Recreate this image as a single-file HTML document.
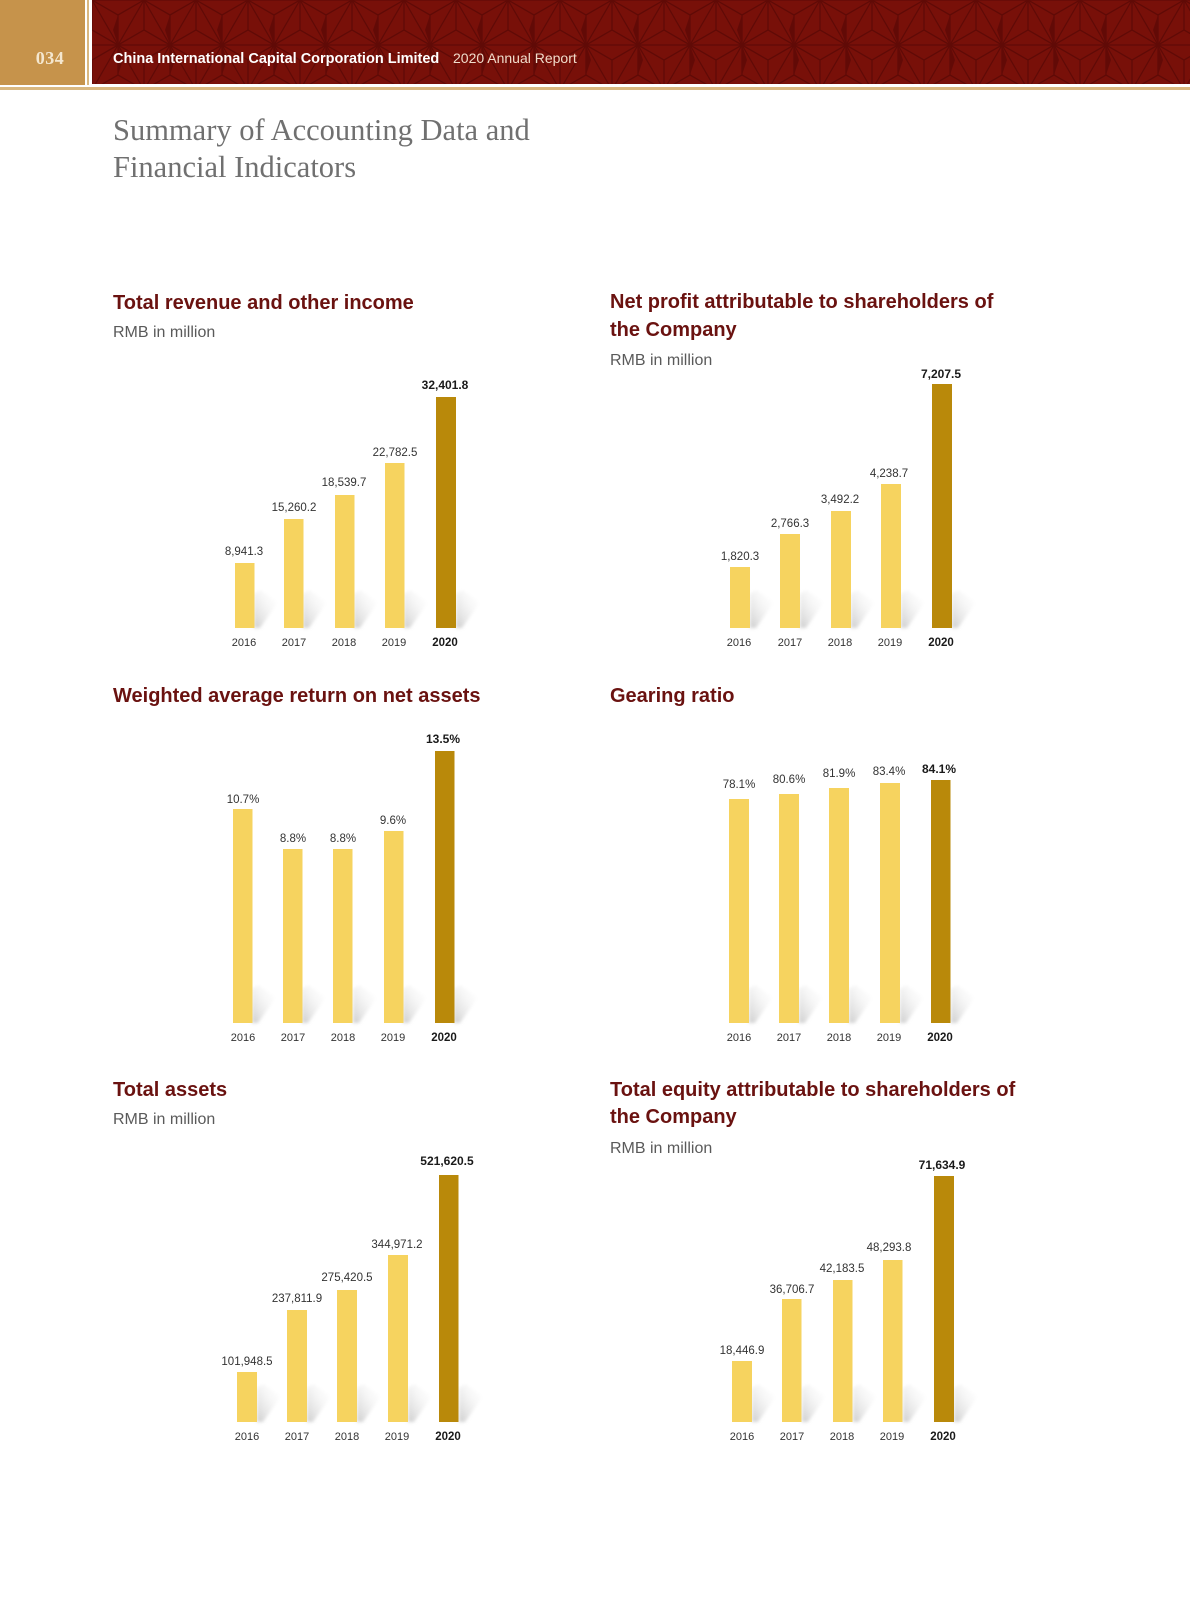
<!DOCTYPE html>
<html>
<head>
<meta charset="utf-8">
<style>
  html, body { margin:0; padding:0; background:#ffffff; }
  body { width:1190px; height:1615px; overflow:hidden; }
  svg { display:block; }
  .t { font-family:"Liberation Sans", sans-serif; font-weight:bold; font-size:20px; fill:#6a1210; }
  .u { font-family:"Liberation Sans", sans-serif; font-size:16px; fill:#5a5a5a; }
  .v { font-family:"Liberation Sans", sans-serif; font-size:11.5px; fill:#333333; text-anchor:middle; }
  .vb { font-family:"Liberation Sans", sans-serif; font-size:12px; font-weight:bold; fill:#1a1a1a; text-anchor:middle; }
  .y { font-family:"Liberation Sans", sans-serif; font-size:11px; fill:#333333; text-anchor:middle; }
  .yb { font-family:"Liberation Sans", sans-serif; font-size:11.5px; font-weight:bold; fill:#1a1a1a; text-anchor:middle; }
  .b { fill:#f6d35f; }
  .d { fill:#b9890a; }
  .s { fill:url(#sg); filter:url(#bl); }
</style>
</head>
<body>
<svg width="1190" height="1615" viewBox="0 0 1190 1615" xmlns="http://www.w3.org/2000/svg">
  <defs>
    <pattern id="asa" patternUnits="userSpaceOnUse" x="92" y="0" width="52" height="90">
      <rect x="0" y="0" width="52" height="90" fill="#781009"/>
      <g stroke="#600a06" stroke-width="1.3" fill="none">
        <line x1="-30" y1="0" x2="82" y2="0"/>
        <line x1="-30" y1="45" x2="82" y2="45"/>
        <line x1="-30" y1="90" x2="82" y2="90"/>
        <line x1="0" y1="0" x2="52" y2="90"/>
        <line x1="52" y1="0" x2="0" y2="90"/>
        <line x1="26" y1="15" x2="0" y2="0"/>
        <line x1="26" y1="15" x2="52" y2="0"/>
        <line x1="26" y1="15" x2="26" y2="45"/>
        <line x1="0" y1="30" x2="0" y2="0"/>
        <line x1="0" y1="30" x2="26" y2="45"/>
        <line x1="0" y1="30" x2="-26" y2="45"/>
        <line x1="52" y1="30" x2="52" y2="0"/>
        <line x1="52" y1="30" x2="26" y2="45"/>
        <line x1="52" y1="30" x2="78" y2="45"/>
        <line x1="26" y1="75" x2="26" y2="45"/>
        <line x1="26" y1="75" x2="0" y2="90"/>
        <line x1="26" y1="75" x2="52" y2="90"/>
        <line x1="0" y1="60" x2="-26" y2="45"/>
        <line x1="0" y1="60" x2="26" y2="45"/>
        <line x1="0" y1="60" x2="0" y2="90"/>
        <line x1="52" y1="60" x2="26" y2="45"/>
        <line x1="52" y1="60" x2="78" y2="45"/>
        <line x1="52" y1="60" x2="52" y2="90"/>
      </g>
      <g fill="#620a06">
        <polygon points="26,15 26,45 21,30"/>
        <polygon points="26,75 26,45 31,60"/>
      </g>
    </pattern>
    <linearGradient id="sg" x1="0" y1="1" x2="1" y2="0">
      <stop offset="0" stop-color="#c8c8c8" stop-opacity="0.9"/>
      <stop offset="1" stop-color="#ffffff" stop-opacity="0"/>
    </linearGradient>
    <filter id="bl" x="-50%" y="-50%" width="200%" height="200%">
      <feGaussianBlur stdDeviation="1.6"/>
    </filter>
    <g id="sh">
      <polygon points="0,0 0,-34 6,-38 24,-26 6,0"/>
    </g>
  </defs>

  <!-- Header -->
  <rect x="0" y="0" width="85" height="85" fill="#c6934b"/>
  <rect x="87" y="0" width="2" height="85" fill="#d9b77f"/>
  <rect x="92" y="0" width="1098" height="84" fill="url(#asa)"/>
  <rect x="0" y="87" width="1190" height="3" fill="#d9b77f"/>
  <text x="50" y="64" text-anchor="middle" style="font-family:'Liberation Serif',serif;font-size:18px;font-weight:bold;fill:#f4e7cf;letter-spacing:0.5px">034</text>
  <text x="113" y="63" style="font-family:'Liberation Sans',sans-serif;font-size:14.5px;font-weight:bold;fill:#ffffff">China International Capital Corporation Limited</text>
  <text x="453" y="63" style="font-family:'Liberation Sans',sans-serif;font-size:14px;fill:#f1dccb">2020 Annual Report</text>

  <!-- Main title -->
  <text x="113" y="140" style="font-family:'Liberation Serif',serif;font-size:30.5px;fill:#707070">Summary of Accounting Data and</text>
  <text x="113" y="177" style="font-family:'Liberation Serif',serif;font-size:30.5px;fill:#707070">Financial Indicators</text>

  <!-- Chart 1: Total revenue -->
  <text class="t" x="113" y="309">Total revenue and other income</text>
  <text class="u" x="113" y="337">RMB in million</text>
  <g class="s">
    <use href="#sh" x="254" y="628"/><use href="#sh" x="303" y="628"/><use href="#sh" x="354" y="628"/><use href="#sh" x="404" y="628"/><use href="#sh" x="456" y="628"/>
  </g>
  <rect class="b" x="235" y="563" width="19.5" height="65"/>
  <rect class="b" x="284" y="519" width="19.5" height="109"/>
  <rect class="b" x="335" y="495" width="19.5" height="133"/>
  <rect class="b" x="385" y="463" width="19.5" height="165"/>
  <rect class="d" x="436" y="397" width="20" height="231"/>
  <text class="v" x="244" y="555">8,941.3</text>
  <text class="v" x="294" y="511">15,260.2</text>
  <text class="v" x="344" y="486">18,539.7</text>
  <text class="v" x="395" y="456">22,782.5</text>
  <text class="vb" x="445" y="389">32,401.8</text>
  <text class="y" x="244" y="646">2016</text>
  <text class="y" x="294" y="646">2017</text>
  <text class="y" x="344" y="646">2018</text>
  <text class="y" x="394" y="646">2019</text>
  <text class="yb" x="445" y="646">2020</text>

  <!-- Chart 2: Net profit -->
  <text class="t" x="610" y="308">Net profit attributable to shareholders of</text>
  <text class="t" x="610" y="336">the Company</text>
  <text class="u" x="610" y="365">RMB in million</text>
  <g class="s">
    <use href="#sh" x="750" y="628"/><use href="#sh" x="800" y="628"/><use href="#sh" x="851" y="628"/><use href="#sh" x="901" y="628"/><use href="#sh" x="952" y="628"/>
  </g>
  <rect class="b" x="730" y="567" width="20" height="61"/>
  <rect class="b" x="780" y="534" width="20" height="94"/>
  <rect class="b" x="831" y="511" width="20" height="117"/>
  <rect class="b" x="881" y="484" width="20" height="144"/>
  <rect class="d" x="932" y="384" width="20" height="244"/>
  <text class="v" x="740" y="560">1,820.3</text>
  <text class="v" x="790" y="527">2,766.3</text>
  <text class="v" x="840" y="503">3,492.2</text>
  <text class="v" x="889" y="477">4,238.7</text>
  <text class="vb" x="941" y="378">7,207.5</text>
  <text class="y" x="739" y="646">2016</text>
  <text class="y" x="790" y="646">2017</text>
  <text class="y" x="840" y="646">2018</text>
  <text class="y" x="890" y="646">2019</text>
  <text class="yb" x="941" y="646">2020</text>

  <!-- Chart 3: Weighted average return -->
  <text class="t" x="113" y="702">Weighted average return on net assets</text>
  <g class="s">
    <use href="#sh" x="252" y="1023"/><use href="#sh" x="302" y="1023"/><use href="#sh" x="353" y="1023"/><use href="#sh" x="403" y="1023"/><use href="#sh" x="454" y="1023"/>
  </g>
  <rect class="b" x="233" y="809" width="19.5" height="214"/>
  <rect class="b" x="283" y="849" width="19.5" height="174"/>
  <rect class="b" x="333" y="849" width="19.5" height="174"/>
  <rect class="b" x="384" y="831" width="19.5" height="192"/>
  <rect class="d" x="435" y="751" width="19.5" height="272"/>
  <text class="v" x="243" y="803">10.7%</text>
  <text class="v" x="293" y="842">8.8%</text>
  <text class="v" x="343" y="842">8.8%</text>
  <text class="v" x="393" y="824">9.6%</text>
  <text class="vb" x="443" y="743">13.5%</text>
  <text class="y" x="243" y="1041">2016</text>
  <text class="y" x="293" y="1041">2017</text>
  <text class="y" x="343" y="1041">2018</text>
  <text class="y" x="393" y="1041">2019</text>
  <text class="yb" x="444" y="1041">2020</text>

  <!-- Chart 4: Gearing ratio -->
  <text class="t" x="610" y="702">Gearing ratio</text>
  <g class="s">
    <use href="#sh" x="749" y="1023"/><use href="#sh" x="799" y="1023"/><use href="#sh" x="849" y="1023"/><use href="#sh" x="900" y="1023"/><use href="#sh" x="951" y="1023"/>
  </g>
  <rect class="b" x="729" y="799" width="20" height="224"/>
  <rect class="b" x="779" y="794" width="20" height="229"/>
  <rect class="b" x="829" y="788" width="20" height="235"/>
  <rect class="b" x="880" y="783" width="20" height="240"/>
  <rect class="d" x="931" y="780" width="19.5" height="243"/>
  <text class="v" x="739" y="788">78.1%</text>
  <text class="v" x="789" y="783">80.6%</text>
  <text class="v" x="839" y="777">81.9%</text>
  <text class="v" x="889" y="775">83.4%</text>
  <text class="vb" x="939" y="773">84.1%</text>
  <text class="y" x="739" y="1041">2016</text>
  <text class="y" x="789" y="1041">2017</text>
  <text class="y" x="839" y="1041">2018</text>
  <text class="y" x="889" y="1041">2019</text>
  <text class="yb" x="940" y="1041">2020</text>

  <!-- Chart 5: Total assets -->
  <text class="t" x="113" y="1096">Total assets</text>
  <text class="u" x="113" y="1124">RMB in million</text>
  <g class="s">
    <use href="#sh" x="257" y="1422"/><use href="#sh" x="307" y="1422"/><use href="#sh" x="357" y="1422"/><use href="#sh" x="408" y="1422"/><use href="#sh" x="459" y="1422"/>
  </g>
  <rect class="b" x="237" y="1372" width="20" height="50"/>
  <rect class="b" x="287" y="1310" width="20" height="112"/>
  <rect class="b" x="337" y="1290" width="20" height="132"/>
  <rect class="b" x="388" y="1255" width="20" height="167"/>
  <rect class="d" x="439" y="1175" width="19.5" height="247"/>
  <text class="v" x="247" y="1365">101,948.5</text>
  <text class="v" x="297" y="1302">237,811.9</text>
  <text class="v" x="347" y="1281">275,420.5</text>
  <text class="v" x="397" y="1248">344,971.2</text>
  <text class="vb" x="447" y="1165">521,620.5</text>
  <text class="y" x="247" y="1440">2016</text>
  <text class="y" x="297" y="1440">2017</text>
  <text class="y" x="347" y="1440">2018</text>
  <text class="y" x="397" y="1440">2019</text>
  <text class="yb" x="448" y="1440">2020</text>

  <!-- Chart 6: Total equity -->
  <text class="t" x="610" y="1096">Total equity attributable to shareholders of</text>
  <text class="t" x="610" y="1123">the Company</text>
  <text class="u" x="610" y="1153">RMB in million</text>
  <g class="s">
    <use href="#sh" x="752" y="1422"/><use href="#sh" x="802" y="1422"/><use href="#sh" x="853" y="1422"/><use href="#sh" x="903" y="1422"/><use href="#sh" x="954" y="1422"/>
  </g>
  <rect class="b" x="732" y="1361" width="20" height="61"/>
  <rect class="b" x="782" y="1299" width="19.5" height="123"/>
  <rect class="b" x="833" y="1280" width="19.5" height="142"/>
  <rect class="b" x="883" y="1260" width="19.5" height="162"/>
  <rect class="d" x="934" y="1176" width="20" height="246"/>
  <text class="v" x="742" y="1354">18,446.9</text>
  <text class="v" x="792" y="1293">36,706.7</text>
  <text class="v" x="842" y="1272">42,183.5</text>
  <text class="v" x="889" y="1251">48,293.8</text>
  <text class="vb" x="942" y="1169">71,634.9</text>
  <text class="y" x="742" y="1440">2016</text>
  <text class="y" x="792" y="1440">2017</text>
  <text class="y" x="842" y="1440">2018</text>
  <text class="y" x="892" y="1440">2019</text>
  <text class="yb" x="943" y="1440">2020</text>
</svg>
</body>
</html>
